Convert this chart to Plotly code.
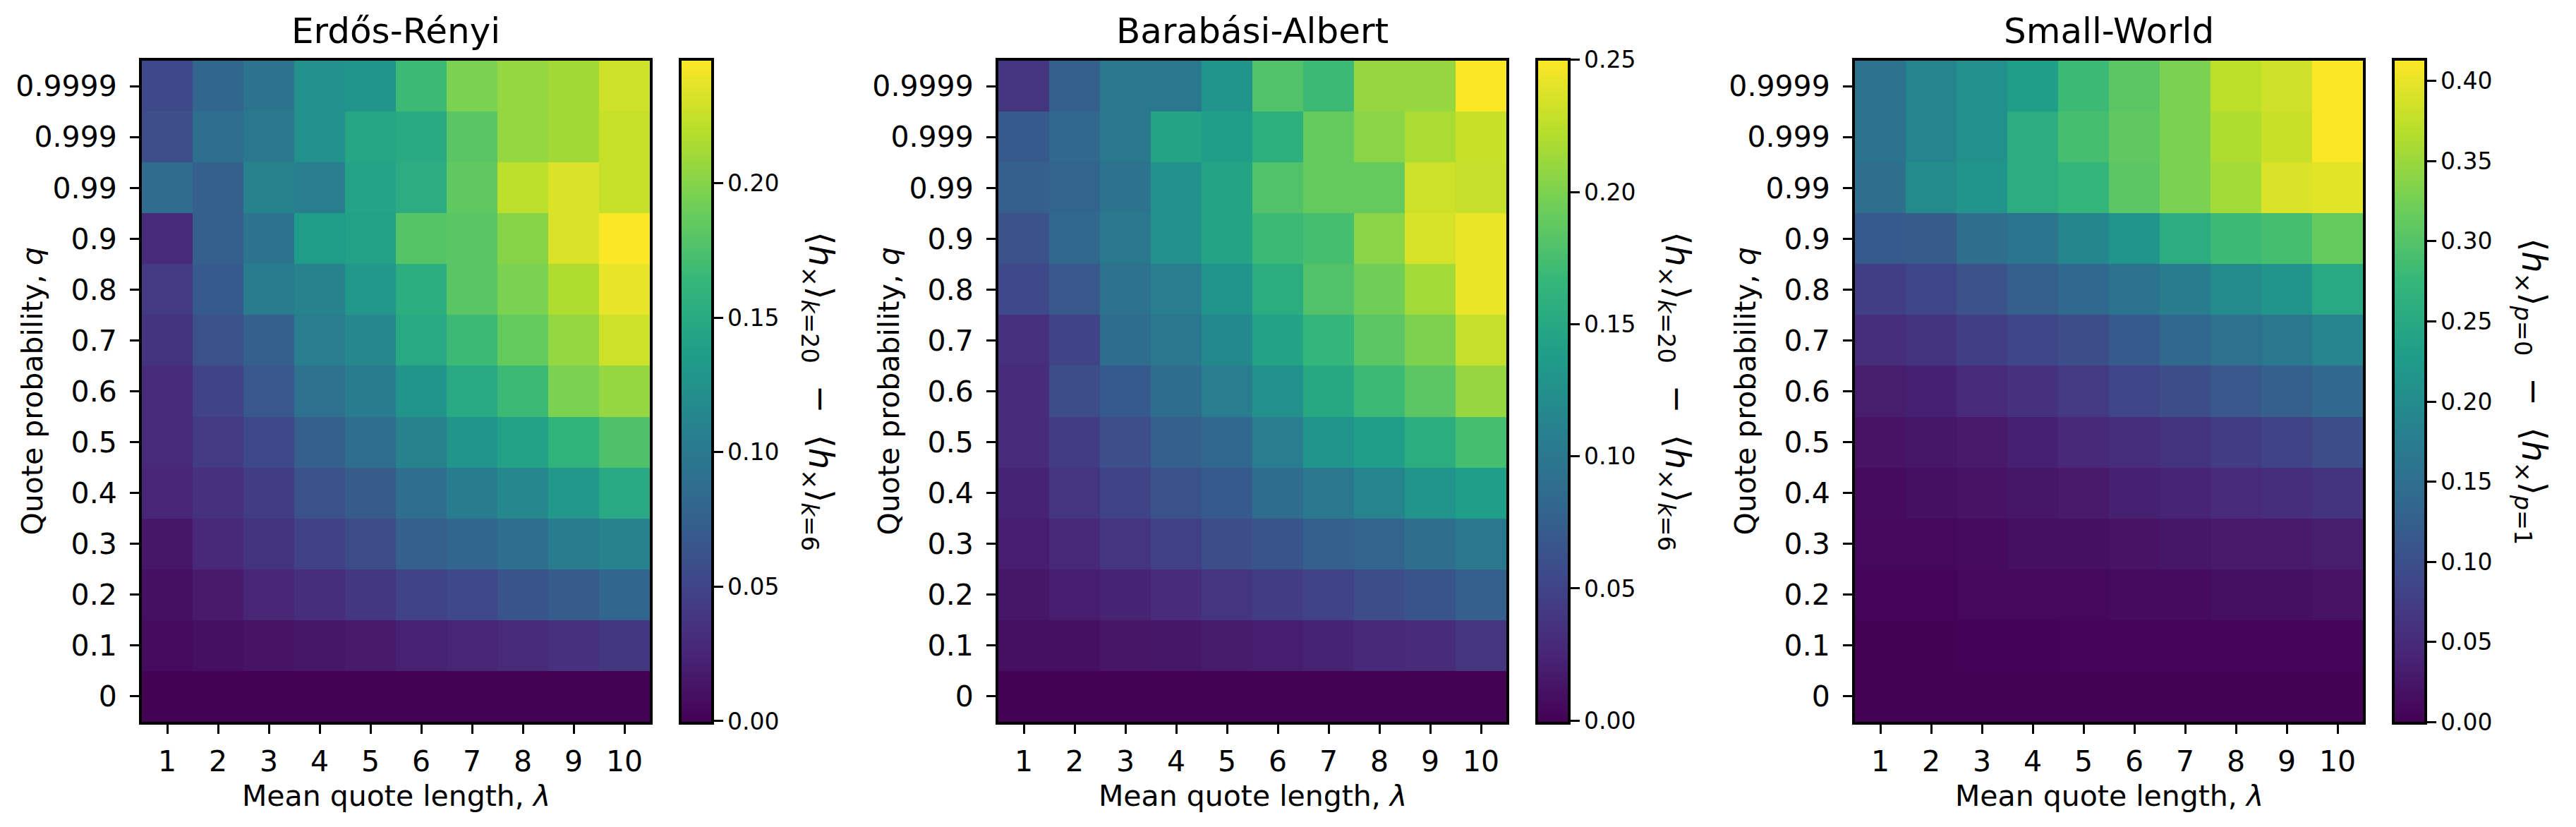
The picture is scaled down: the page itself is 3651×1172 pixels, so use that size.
import plotly.graph_objects as go

W, H = 3651, 1172

lam = [1, 2, 3, 4, 5, 6, 7, 8, 9, 10]
q_labels = ["0", "0.1", "0.2", "0.3", "0.4", "0.5", "0.6", "0.7", "0.8", "0.9", "0.99", "0.999", "0.9999"]

titles = ["Erdős-Rényi", "Barabási-Albert", "Small-World"]

# rows ordered bottom (q=0) to top (q=0.9999)
er_values = [
    [0.000, 0.000, 0.000, 0.000, 0.000, 0.000, 0.000, 0.000, 0.000, 0.000],
    [0.007, 0.010, 0.012, 0.015, 0.017, 0.022, 0.025, 0.029, 0.034, 0.039],
    [0.010, 0.017, 0.025, 0.032, 0.039, 0.049, 0.054, 0.064, 0.071, 0.081],
    [0.015, 0.027, 0.037, 0.047, 0.056, 0.074, 0.081, 0.088, 0.103, 0.110],
    [0.025, 0.034, 0.044, 0.061, 0.071, 0.088, 0.103, 0.115, 0.130, 0.147],
    [0.029, 0.042, 0.054, 0.074, 0.088, 0.110, 0.127, 0.140, 0.159, 0.176],
    [0.029, 0.049, 0.066, 0.091, 0.103, 0.127, 0.147, 0.167, 0.196, 0.206],
    [0.037, 0.061, 0.074, 0.105, 0.115, 0.147, 0.167, 0.186, 0.206, 0.228],
    [0.042, 0.069, 0.103, 0.110, 0.130, 0.154, 0.181, 0.196, 0.216, 0.238],
    [0.029, 0.074, 0.093, 0.135, 0.140, 0.179, 0.181, 0.201, 0.233, 0.245],
    [0.086, 0.074, 0.110, 0.105, 0.142, 0.152, 0.184, 0.221, 0.233, 0.225],
    [0.059, 0.088, 0.098, 0.123, 0.145, 0.150, 0.181, 0.206, 0.211, 0.225],
    [0.054, 0.081, 0.093, 0.123, 0.127, 0.167, 0.196, 0.206, 0.211, 0.228],
]

ba_values = [
    [0.000, 0.000, 0.000, 0.000, 0.000, 0.000, 0.000, 0.000, 0.000, 0.000],
    [0.010, 0.010, 0.013, 0.015, 0.018, 0.020, 0.023, 0.028, 0.030, 0.038],
    [0.015, 0.020, 0.023, 0.030, 0.038, 0.045, 0.050, 0.058, 0.065, 0.075],
    [0.020, 0.028, 0.038, 0.048, 0.058, 0.065, 0.075, 0.080, 0.090, 0.100],
    [0.023, 0.038, 0.050, 0.063, 0.070, 0.088, 0.100, 0.113, 0.130, 0.140],
    [0.030, 0.045, 0.060, 0.075, 0.083, 0.105, 0.130, 0.140, 0.155, 0.175],
    [0.030, 0.058, 0.070, 0.088, 0.105, 0.125, 0.150, 0.170, 0.185, 0.210],
    [0.033, 0.050, 0.088, 0.100, 0.118, 0.143, 0.165, 0.185, 0.200, 0.228],
    [0.055, 0.068, 0.093, 0.105, 0.130, 0.155, 0.180, 0.195, 0.215, 0.243],
    [0.063, 0.083, 0.100, 0.125, 0.145, 0.170, 0.175, 0.205, 0.235, 0.243],
    [0.075, 0.080, 0.095, 0.125, 0.145, 0.180, 0.190, 0.190, 0.232, 0.228],
    [0.070, 0.083, 0.100, 0.145, 0.140, 0.158, 0.190, 0.205, 0.218, 0.230],
    [0.038, 0.075, 0.100, 0.100, 0.130, 0.180, 0.170, 0.210, 0.210, 0.250],
]

sw_values = [
    [0.000, 0.000, 0.000, 0.000, 0.000, 0.000, 0.000, 0.000, 0.000, 0.000],
    [0.001, 0.001, 0.002, 0.002, 0.003, 0.003, 0.003, 0.004, 0.004, 0.004],
    [0.004, 0.004, 0.008, 0.008, 0.008, 0.012, 0.012, 0.017, 0.017, 0.021],
    [0.008, 0.008, 0.012, 0.017, 0.017, 0.021, 0.025, 0.029, 0.029, 0.033],
    [0.012, 0.017, 0.021, 0.025, 0.029, 0.037, 0.041, 0.050, 0.054, 0.062],
    [0.021, 0.025, 0.029, 0.037, 0.045, 0.054, 0.062, 0.074, 0.083, 0.099],
    [0.033, 0.037, 0.050, 0.058, 0.070, 0.087, 0.099, 0.112, 0.124, 0.140],
    [0.054, 0.062, 0.078, 0.087, 0.099, 0.116, 0.140, 0.153, 0.165, 0.186],
    [0.078, 0.087, 0.107, 0.124, 0.140, 0.157, 0.173, 0.198, 0.215, 0.248],
    [0.116, 0.120, 0.149, 0.161, 0.190, 0.215, 0.256, 0.281, 0.289, 0.314],
    [0.149, 0.198, 0.215, 0.256, 0.273, 0.306, 0.330, 0.355, 0.392, 0.396],
    [0.157, 0.186, 0.207, 0.256, 0.289, 0.310, 0.330, 0.363, 0.380, 0.413],
    [0.157, 0.186, 0.207, 0.231, 0.281, 0.306, 0.330, 0.372, 0.384, 0.413],
]

z_limits = [(-0.0008, 0.246), (-0.001, 0.2502), (-0.0007, 0.4135)]

cbar_labels = [
    "⟨<i>h</i><sub>×</sub>⟩<sub><i>k</i>=20</sub>  −  ⟨<i>h</i><sub>×</sub>⟩<sub><i>k</i>=6</sub>",
    "⟨<i>h</i><sub>×</sub>⟩<sub><i>k</i>=20</sub>  −  ⟨<i>h</i><sub>×</sub>⟩<sub><i>k</i>=6</sub>",
    "⟨<i>h</i><sub>×</sub>⟩<sub><i>p</i>=0</sub>  −  ⟨<i>h</i><sub>×</sub>⟩<sub><i>p</i>=1</sub>",
]

# layout geometry (pixels)
plot_left = [201, 1415, 2629]
plot_w = 720
plot_top, plot_bot = 86, 1023
cbar_left = [964, 2178, 3392]
cbar_th = 46
cbar_label_x = [1160, 2374, 3588]

FONT = "DejaVu Sans"

fig = go.Figure()
all_values = [er_values, ba_values, sw_values]

for i in range(3):
    xa = "x" if i == 0 else f"x{i+1}"
    ya = "y" if i == 0 else f"y{i+1}"
    zmin, zmax = z_limits[i]
    fig.add_trace(go.Heatmap(
        x=lam, y=q_labels, z=all_values[i],
        xaxis=xa, yaxis=ya,
        colorscale="Viridis", zmin=zmin, zmax=zmax,
        colorbar=dict(
            x=cbar_left[i] / W, xanchor="left", xpad=0, ypad=0,
            y=1 - (plot_top - 2) / H, yanchor="top",
            len=(plot_bot - plot_top + 4) / H, lenmode="fraction",
            thickness=cbar_th, thicknessmode="pixels",
            outlinewidth=4, outlinecolor="black",
            ticks="outside", ticklen=13, tickwidth=3, tickcolor="black",
            tickfont=dict(family=FONT, size=33, color="black"),
            tickformat=".2f", tick0=0, dtick=0.05,
        ),
    ))

    x0 = plot_left[i] / W
    x1 = (plot_left[i] + plot_w) / W
    axis_common = dict(
        showline=True, mirror=True, linewidth=4, linecolor="black",
        ticks="outside", ticklen=13, tickwidth=3, tickcolor="black",
        tickfont=dict(family=FONT, size=41, color="black"),
        showgrid=False, zeroline=False,
    )
    fig.update_layout(**{
        ("xaxis" if i == 0 else f"xaxis{i+1}"): dict(
            domain=[x0, x1], anchor=ya, range=[0.5, 10.5],
            tickmode="array", tickvals=lam, ticktext=[str(v) for v in lam],
            ticklabelstandoff=4, **axis_common),
        ("yaxis" if i == 0 else f"yaxis{i+1}"): dict(
            domain=[1 - plot_bot / H, 1 - plot_top / H], anchor=xa,
            type="category", range=[-0.5, 12.5],
            categoryorder="array", categoryarray=q_labels,
            ticklabelstandoff=10, **axis_common),
    })

    cx = (plot_left[i] + plot_w / 2) / W
    fig.add_annotation(text=titles[i], x=cx, y=1 - 44 / H, xref="paper", yref="paper",
                       showarrow=False, xanchor="center", yanchor="middle",
                       font=dict(family=FONT, size=50, color="black"))
    fig.add_annotation(text="Mean quote length, <i>λ</i>", x=cx, y=1 - 1128 / H,
                       xref="paper", yref="paper", showarrow=False,
                       xanchor="center", yanchor="middle",
                       font=dict(family=FONT, size=41, color="black"))
    fig.add_annotation(text="Quote probability, <i>q</i>", x=(plot_left[i] - 156) / W,
                       y=1 - (plot_top + plot_bot) / 2 / H,
                       xref="paper", yref="paper", showarrow=False, textangle=-90,
                       xanchor="center", yanchor="middle",
                       font=dict(family=FONT, size=41, color="black"))
    fig.add_annotation(text=cbar_labels[i], x=cbar_label_x[i] / W,
                       y=1 - (plot_top + plot_bot) / 2 / H,
                       xref="paper", yref="paper", showarrow=False, textangle=90,
                       xanchor="center", yanchor="middle",
                       font=dict(family=FONT, size=48, color="black"))

fig.update_layout(
    width=W, height=H,
    margin=dict(l=0, r=0, t=0, b=0),
    paper_bgcolor="white", plot_bgcolor="white",
    showlegend=False,
)

fig.write_html(
    "out.html",
    config={"displayModeBar": False},
    post_script="document.body.style.margin='0px';document.body.style.overflow='hidden';",
)
